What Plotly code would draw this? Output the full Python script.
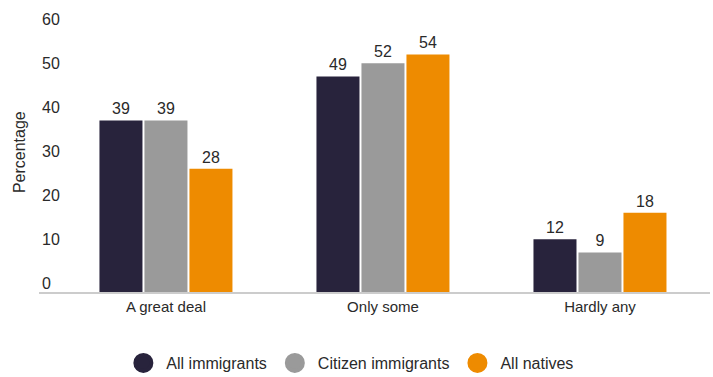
import plotly.graph_objects as go

# Survey responses by group
categories = ["A great deal", "Only some", "Hardly any"]
series_names = ["All immigrants", "Citizen immigrants", "All natives"]
all_immigrants = [39, 49, 12]
citizen_immigrants = [39, 52, 9]
all_natives = [28, 54, 18]
y_ticks = [0, 10, 20, 30, 40, 50, 60]

colors = ["#28233C", "#9A9A9A", "#EE8B00"]
FONT = "Liberation Sans, Arial, sans-serif"
TEXT_COLOR = "#2a2a2a"

fig = go.Figure()
for name, vals, col in zip(series_names, [all_immigrants, citizen_immigrants, all_natives], colors):
    fig.add_trace(go.Bar(
        x=categories, y=vals, name=name, marker=dict(color=col, line=dict(width=0)),
        text=[str(v) for v in vals], textposition="outside", cliponaxis=False,
        constraintext="none",
        textfont=dict(family=FONT, size=16, color=TEXT_COLOR),
        showlegend=False,
    ))

# Round legend markers
for name, col in zip(series_names, colors):
    fig.add_trace(go.Scatter(
        x=[None], y=[None], mode="markers", name=name,
        marker=dict(symbol="circle", size=16, color=col, line=dict(color=col, width=4)),
        showlegend=True,
    ))

# Left-aligned tick labels sitting just above each tick value
tick_annotations = [
    dict(text=str(t), xref="paper", yref="y", x=0, y=t, xshift=1, yshift=9,
         xanchor="left", yanchor="middle", showarrow=False,
         font=dict(family=FONT, size=16, color=TEXT_COLOR))
    for t in y_ticks
]

fig.update_layout(
    width=713, height=377,
    margin=dict(l=39, r=3, t=28, b=85),
    paper_bgcolor="white", plot_bgcolor="white",
    barmode="group", bargap=0.378, bargroupgap=0.044,
    font=dict(family=FONT, size=15, color=TEXT_COLOR),
    xaxis=dict(
        type="category", range=[-0.585, 2.507],
        showline=True, linecolor="#cccccc", linewidth=2,
        ticks="", showgrid=False, zeroline=False,
        tickfont=dict(family=FONT, size=15, color=TEXT_COLOR),
    ),
    yaxis=dict(
        range=[0, 60], tickvals=y_ticks, showticklabels=False,
        showgrid=False, zeroline=False, showline=False, ticks="",
    ),
    legend=dict(
        orientation="h", xref="container", yref="container",
        x=0.49, xanchor="center", y=1 - 363 / 377, yanchor="middle",
        font=dict(family=FONT, size=16, color=TEXT_COLOR),
        itemwidth=36, bgcolor="rgba(0,0,0,0)",
    ),
    annotations=tick_annotations + [dict(
        text="Percentage", textangle=-90, xref="paper", yref="paper",
        x=0, xshift=-20, y=0.53, xanchor="center", yanchor="middle",
        showarrow=False, font=dict(family=FONT, size=16, color=TEXT_COLOR),
    )],
)

fig.write_html("out.html")
